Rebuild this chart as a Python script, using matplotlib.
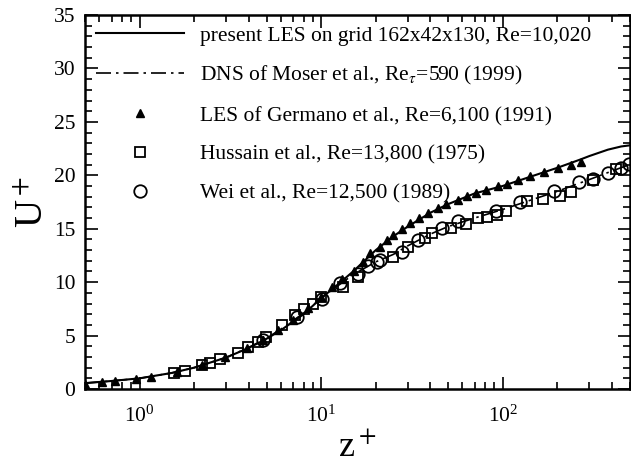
import matplotlib.pyplot as plt
from matplotlib.ticker import MultipleLocator, LogLocator, NullFormatter

plt.rcParams['font.family'] = ['Liberation Serif', 'DejaVu Serif']
plt.rcParams['mathtext.fontset'] = 'stix'
plt.rcParams['font.size'] = 15.5

# present LES (solid line)
les_z = [0.5, 0.7, 1.0, 1.5, 2.0, 3.0, 4.0, 5.0, 6.0, 8.0, 10.0, 12.0, 15.0, 20.0,
         25.0, 30.0, 40.0, 50.0, 70.0, 100.0, 150.0, 200.0, 270.0, 300.0, 380.0, 450.0, 500.0]
les_u = [0.55, 0.75, 1.0, 1.5, 2.0, 2.95, 3.85, 4.7, 5.5, 7.0, 8.5, 9.6, 11.0, 13.0,
         14.3, 15.2, 16.5, 17.3, 18.3, 19.0, 20.0, 20.7, 21.5, 21.8, 22.4, 22.7, 22.8]

# DNS Moser et al. (dash-dot)
dns_z = [0.5, 0.7, 1.0, 1.5, 2.0, 3.0, 4.0, 5.0, 6.0, 8.0, 10.0, 12.0, 15.0, 20.0,
         25.0, 30.0, 40.0, 50.0, 70.0, 100.0, 150.0, 200.0, 300.0, 400.0, 500.0, 590.0]
dns_u = [0.55, 0.75, 1.0, 1.5, 2.0, 2.95, 3.9, 4.75, 5.6, 7.1, 8.5, 9.5, 10.7, 11.9,
         12.6, 13.4, 14.5, 15.2, 16.0, 16.8, 17.8, 18.5, 19.6, 20.4, 21.0, 21.3]

# Germano et al. LES (filled triangles)
ger_z = [0.5, 0.62, 0.73, 0.96, 1.15, 1.6, 2.2, 2.95, 3.9, 4.8, 5.8, 7.0, 8.5, 10.0,
         11.5, 13.1, 15.2, 17.0, 18.7, 21.2, 23.2, 25.0, 28.0, 31.0, 34.8, 39.0, 43.8,
         49.0, 56.4, 63.3, 71.0, 80.5, 93.8, 106.0, 121.0, 141.0, 169.0, 201.0, 238.0, 270.0]
ger_u = [0.5, 0.62, 0.73, 0.96, 1.15, 1.6, 2.2, 2.95, 3.8, 4.6, 5.5, 6.5, 7.6, 8.6,
         9.5, 10.3, 11.0, 11.9, 12.7, 13.3, 13.9, 14.4, 15.0, 15.5, 16.0, 16.5, 16.9,
         17.3, 17.7, 18.1, 18.3, 18.6, 19.0, 19.2, 19.6, 19.9, 20.3, 20.7, 21.0, 21.2]

# Hussain et al. (open squares)
hus_z = [1.54, 1.77, 2.2, 2.43, 2.77, 3.48, 3.95, 4.5, 4.97, 6.09, 7.18, 8.0, 9.03,
         10.0, 13.2, 16.0, 25.0, 30.2, 37.5, 41.0, 51.6, 62.6, 72.7, 81.6, 93.0, 104.0,
         136.0, 166.0, 206.0, 238.0, 314.0, 421.0]
hus_u = [1.5, 1.65, 2.2, 2.4, 2.8, 3.4, 3.9, 4.4, 4.9, 6.0, 6.9, 7.5, 8.0,
         8.6, 9.5, 10.5, 12.4, 13.3, 14.1, 14.6, 15.1, 15.4, 16.0, 16.1, 16.3, 16.7,
         17.6, 17.8, 18.1, 18.4, 19.6, 20.6]

# Wei et al. (open circles)
wei_z = [4.8, 7.4, 10.1, 12.7, 16.0, 18.2, 20.4, 21.2, 28.0, 34.3, 46.5, 57.0,
         91.5, 124.0, 191.0, 263.0, 314.0, 380.0, 448.0, 497.0]
wei_u = [4.6, 6.7, 8.4, 9.9, 10.8, 11.5, 11.9, 12.1, 12.8, 13.9, 15.1, 15.7,
         16.7, 17.5, 18.5, 19.4, 19.7, 20.2, 20.7, 21.1]

fig = plt.figure(figsize=(6.31, 4.68), dpi=100)
ax = fig.add_axes([0.1347, 0.1688, 0.8630, 0.7991])

ax.plot(les_z, les_u, '-', color='black', lw=1.5,
        label='present LES on grid 162x42x130, Re=10,020')
ax.plot(dns_z, dns_u, color='black', lw=1.2, dashes=(9, 3, 1.5, 3),
        label=r'DNS of Moser et al., Re$_\tau$=590 (1999)')
ax.plot(ger_z, ger_u, '^', color='black', ms=5.5, ls='none',
        label='LES of Germano et al., Re=6,100 (1991)')
ax.plot(hus_z, hus_u, 's', mfc='none', mec='black', mew=1.3, ms=7, ls='none',
        label='Hussain et al., Re=13,800 (1975)')
ax.plot(wei_z, wei_u, 'o', mfc='none', mec='black', mew=1.3, ms=9, ls='none',
        label='Wei et al., Re=12,500 (1989)')

ax.set_xscale('log')
ax.set_xlim(0.5, 500)
ax.set_ylim(0, 35)
ax.yaxis.set_major_locator(MultipleLocator(5))
ax.yaxis.set_minor_locator(MultipleLocator(1))
ax.xaxis.set_minor_locator(LogLocator(base=10, subs=range(2, 10)))
ax.xaxis.set_minor_formatter(NullFormatter())

ax.tick_params(which='both', direction='in', top=True, right=True, width=1.2)
ax.tick_params(which='major', length=9, labelsize=15.5)
ax.tick_params(axis='x', which='major', pad=12)
ax.tick_params(axis='y', which='major', pad=7)
ax.tick_params(which='minor', length=5)
for sp in ax.spines.values():
    sp.set_linewidth(1.8)

ax.set_xlabel(r'z$^+$', fontsize=26, labelpad=3)
ax.set_ylabel(r'U$^+$', fontsize=28, labelpad=2)

ax.legend(loc='upper left', bbox_to_anchor=(0.0, 1.0), frameon=False,
          handlelength=4.1, handletextpad=0.75, labelspacing=0.86,
          borderaxespad=0.1, fontsize=15.5, numpoints=1)

fig.savefig('out.png', dpi=100)
